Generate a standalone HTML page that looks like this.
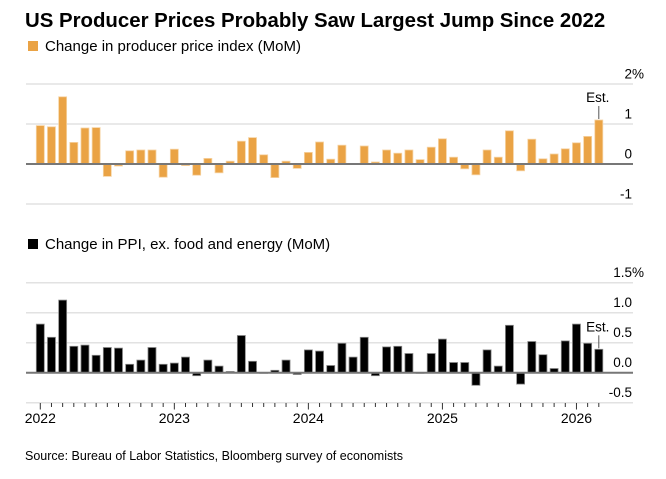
<!DOCTYPE html>
<html><head><meta charset="utf-8"><style>
body{margin:0;background:#fff;font-family:"Liberation Sans",Arial,sans-serif;}
svg text{font-family:"Liberation Sans",Arial,sans-serif;}
</style></head><body>
<svg id="c" width="666" height="474" viewBox="0 0 666 474">
<text x="25" y="27" font-size="20.4" font-weight="bold" fill="#000">US Producer Prices Probably Saw Largest Jump Since 2022</text>
<rect x="28" y="41" width="10" height="10" fill="#eaa345"/>
<text x="45" y="51" font-size="15" fill="#000">Change in producer price index (MoM)</text>
<rect x="28" y="239" width="10" height="10" fill="#000"/>
<text x="45" y="249" font-size="15" fill="#000">Change in PPI, ex. food and energy (MoM)</text>
<text x="25" y="460" font-size="12.5" fill="#000">Source: Bureau of Labor Statistics, Bloomberg survey of economists</text>
<g id="top"></g><g id="bot"></g><g id="xaxis"></g>
</svg>
<script>
const ppi = [0.96,0.93,1.68,0.54,0.9,0.91,-0.31,-0.05,0.33,0.35,0.35,-0.33,0.37,-0.04,-0.28,0.14,-0.22,0.07,0.57,0.66,0.23,-0.34,0.07,-0.11,0.29,0.55,0.12,0.47,-0.01,0.45,0.05,0.35,0.27,0.35,0.11,0.42,0.63,0.17,-0.12,-0.27,0.35,0.17,0.83,-0.17,0.62,0.13,0.25,0.38,0.53,0.69,1.1];
const core = [0.81,0.59,1.21,0.44,0.46,0.29,0.42,0.41,0.14,0.21,0.42,0.14,0.16,0.26,-0.05,0.21,0.11,0.02,0.62,0.19,-0.01,0.04,0.21,-0.03,0.38,0.36,0.12,0.49,0.26,0.59,-0.05,0.43,0.44,0.32,0.0,0.32,0.56,0.17,0.17,-0.21,0.38,0.11,0.79,-0.19,0.52,0.3,0.07,0.53,0.81,0.49,0.39];
const topTicks = [2,1,0,-1];
const topTickLabels = ["2","1","0","-1"];
const botTicks = [1.5,1.0,0.5,0.0,-0.5];
const botTickLabels = ["1.5","1.0","0.5","0.0","-0.5"];
const years = ["2022","2023","2024","2025","2026"];
const NS = "http://www.w3.org/2000/svg";
function mk(tag, attrs, parent){const e=document.createElementNS(NS,tag);for(const k in attrs)e.setAttribute(k,attrs[k]);parent.appendChild(e);return e;}
const xM = m => 40.3 + m*11.17;
function panel(g, data, y0, pxPer, ticks, labels, fill, stroke, name){
  const yS = v => y0 - v*pxPer;
  ticks.forEach((t,i)=>{
    if(t!==0){const l=mk('line',{x1:26,x2:633,y1:yS(t),y2:yS(t),stroke:'#e2e2e2','stroke-width':1.5},g);
      
      }
    const tx=mk('text',{x:632,y:yS(t)-5.5,'font-size':13.5,'text-anchor':'end',fill:'#000'},g);
    tx.textContent=labels[i];
    
    
    if(i===0){const p=mk('text',{x:632,y:yS(t)-5.5,'font-size':13.5,fill:'#000'},g);p.textContent='%';
      
      }
  });
  data.forEach((v,m)=>{
    const y=Math.min(yS(v),y0), h=Math.max(Math.abs(yS(v)-y0),0.6);
    const r=mk('rect',{x:xM(m)-4,y:y,width:8,height:h,fill:fill,stroke:stroke,'stroke-width':0.8},g);
    
    
  });
  const z=mk('line',{x1:26,x2:633,y1:y0,y2:y0,stroke:'#777','stroke-width':2},g);
  
  
  const last=data.length-1, ly=yS(data[last]);
  const el=mk('line',{x1:xM(last),x2:xM(last),y1:ly-14,y2:ly-1,stroke:'#555','stroke-width':1},g);
  
  
  const et=mk('text',{x:xM(last)-1,y:ly-18,'font-size':13.5,'text-anchor':'middle',fill:'#000'},g);
  et.textContent='Est.';
  
  
}
panel(document.getElementById('top'), ppi, 164, 40, topTicks, topTickLabels, '#eaa345', '#f6d3a3', 'ppi');
panel(document.getElementById('bot'), core, 372.7, 60, botTicks, botTickLabels, '#000', '#888', 'core');
const xa=document.getElementById('xaxis');
for(let m=0;m<core.length;m++){
  const yr=m%12===0;
  const t=mk('line',{x1:xM(m),x2:xM(m),y1:403,y2:yr?409.5:407,stroke:'#333','stroke-width':1},xa);
  
  
}
years.forEach((y,i)=>{
  const t=mk('text',{x:xM(i*12),y:423,'font-size':14,'text-anchor':'middle',fill:'#000'},xa);
  t.textContent=y;
  
  
});
</script>
</body></html>
